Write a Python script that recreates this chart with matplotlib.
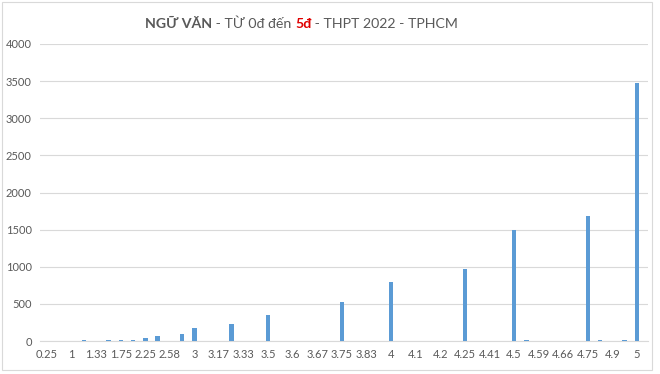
import matplotlib.pyplot as plt
from matplotlib.patches import Rectangle

plt.rcParams['font.family'] = ['Lato', 'DejaVu Sans']

# score categories (every other one is labelled on the axis)
scores = ['0.25', '0.5', '1', '1.25', '1.33', '1.5', '1.75', '2', '2.25', '2.5',
          '2.58', '2.75', '3', '3.08', '3.17', '3.25', '3.33', '3.42', '3.5', '3.58',
          '3.6', '3.63', '3.67', '3.7', '3.75', '3.8', '3.83', '3.92', '4', '4.08',
          '4.1', '4.17', '4.2', '4.22', '4.25', '4.33', '4.41', '4.45', '4.5', '4.55',
          '4.59', '4.63', '4.66', '4.7', '4.75', '4.8', '4.9', '4.92', '5']
counts = [0, 0, 0, 20, 0, 15, 18, 20, 45, 70,
          0, 90, 180, 0, 0, 235, 0, 0, 345, 0,
          0, 0, 0, 0, 530, 0, 0, 0, 790, 0,
          0, 0, 0, 0, 965, 0, 0, 0, 1500, 10,
          0, 0, 0, 0, 1690, 10, 0, 10, 3470]
yticks = [0, 500, 1000, 1500, 2000, 2500, 3000, 3500, 4000]

fig = plt.figure(figsize=(6.6, 3.74), dpi=100)
ax = fig.add_axes([40 / 660, 1 - 341 / 374, 608 / 660, 297 / 374])

x = list(range(len(scores)))
ax.bar(x, counts, width=0.36, color='#5B9BD5', zorder=3)

ax.set_xlim(-0.57, len(scores) - 0.1)
ax.set_ylim(0, 4000)
ax.set_yticks(yticks)
ax.set_yticklabels([str(v) for v in yticks])
ax.set_xticks(x[::2])
ax.set_xticklabels(scores[::2])
ax.tick_params(axis='both', length=0, labelsize=8, colors='#595959')
ax.tick_params(axis='x', pad=6)
ax.tick_params(axis='y', pad=6)
ax.grid(axis='y', color='#D9D9D9', linewidth=0.8, zorder=0)
for s in ['top', 'right', 'left']:
    ax.spines[s].set_visible(False)
ax.spines['bottom'].set_color('#D9D9D9')

# chart frame
fig.patches.append(Rectangle((2 / 660, 1 - 370 / 374), 650 / 660, 368 / 374,
                             transform=fig.transFigure, fill=False,
                             edgecolor='#D9D9D9', linewidth=0.8))

# title made of several styled pieces
parts = [('NGỮ VĂN', 'bold', '#595959'),
         (' - TỪ 0đ đến ', 'normal', '#595959'),
         ('5đ', 'bold', '#E00000'),
         (' - THPT 2022 - TPHCM', 'normal', '#595959')]
fig.canvas.draw()
r = fig.canvas.get_renderer()
xpos = 145
for txt, w, c in parts:
    t = fig.text(xpos / 660, 1 - 28 / 374, txt, fontsize=10.2, fontweight=w,
                 color=c, ha='left', va='baseline')
    bb = t.get_window_extent(renderer=r)
    xpos += bb.width

fig.savefig('out.png', dpi=100)
